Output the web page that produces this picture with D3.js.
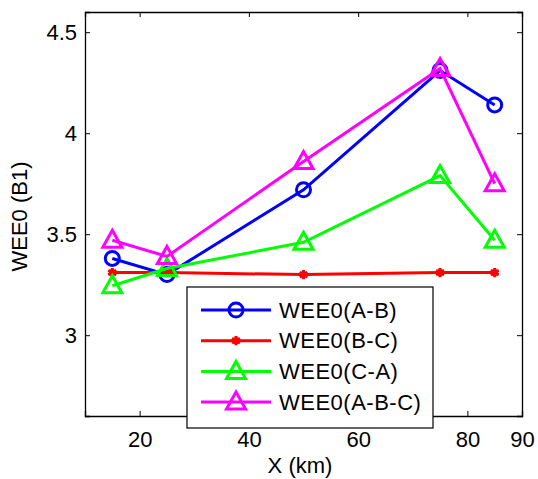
<!DOCTYPE html>
<html>
<head>
<meta charset="utf-8">
<script src="https://cdn.jsdelivr.net/npm/d3@7"></script>
<style>
  body { margin: 0; background: #fff; }
  text { font-family: Arial, "Liberation Sans", sans-serif; }
</style>
</head>
<body>
<div id="chart"></div>
<script>
// datos
const xs = [15, 25, 50, 75, 85];
const seriesNames = ['WEE0(A-B)', 'WEE0(B-C)', 'WEE0(C-A)', 'WEE0(A-B-C)'];
const valsAB = [3.38, 3.30, 3.72, 4.31, 4.14];
const valsBC = [3.31, 3.31, 3.30, 3.31, 3.31];
const valsCA = [3.245, 3.33, 3.46, 3.79, 3.47];
const valsABC = [3.47, 3.39, 3.86, 4.32, 3.75];
const xTicks = [20, 40, 60, 80, 90];
const yTicks = [3, 3.5, 4, 4.5];

const width = 538;
const height = 479;
const margin = { top: 12, right: 16, bottom: 63, left: 85 };

const svg = d3.select('#chart').append('svg')
  .attr('width', width)
  .attr('height', height);

const x = d3.scaleLinear().domain([10, 90]).range([margin.left, width - margin.right]);
const y = d3.scaleLinear().domain([2.6, 4.6]).range([height - margin.bottom, margin.top]);

const series = [
  { name: seriesNames[0], vals: valsAB, color: '#0000ff', marker: 'circle' },
  { name: seriesNames[1], vals: valsBC, color: '#ff0000', marker: 'star' },
  { name: seriesNames[2], vals: valsCA, color: '#00ff00', marker: 'tri' },
  { name: seriesNames[3], vals: valsABC, color: '#ff00ff', marker: 'tri' }
];

// ejes (caja estilo matlab, ticks hacia dentro)
const tickLen = 5;
const fontSize = 22;
const gx = svg.append('g')
  .attr('transform', `translate(0,${y.range()[0]})`)
  .call(d3.axisBottom(x).tickValues(xTicks).tickSize(-tickLen).tickPadding(15).tickFormat(d3.format('d')));
const gxTop = svg.append('g')
  .attr('transform', `translate(0,${y.range()[1]})`)
  .call(d3.axisTop(x).tickValues(xTicks).tickSize(-tickLen).tickFormat(''));
const gy = svg.append('g')
  .attr('transform', `translate(${x.range()[0]},0)`)
  .call(d3.axisLeft(y).tickValues(yTicks).tickSize(-tickLen).tickPadding(8).tickFormat(d3.format('')));
const gyRight = svg.append('g')
  .attr('transform', `translate(${x.range()[1]},0)`)
  .call(d3.axisRight(y).tickValues(yTicks).tickSize(-tickLen).tickFormat(''));

[gx, gxTop, gy, gyRight].forEach(g => {
  g.select('.domain').attr('stroke', '#000').attr('stroke-width', 1.3);
  g.selectAll('.tick line').attr('stroke', '#000');
  g.selectAll('text').attr('font-size', fontSize).attr('fill', '#000')
    .style('font-family', 'Arial, "Liberation Sans", sans-serif');
});

// etiquetas de los ejes
svg.append('text')
  .attr('x', 300)
  .attr('y', 473)
  .attr('text-anchor', 'middle')
  .attr('font-size', fontSize)
  .text('X (km)');

svg.append('text')
  .attr('transform', `translate(26.5, 216.5) rotate(-90)`)
  .attr('text-anchor', 'middle')
  .attr('font-size', fontSize)
  .text('WEE0 (B1)');

// marcadores
function drawMarker(g, type, color, cx, cy) {
  if (type === 'circle') {
    g.append('circle').attr('cx', cx).attr('cy', cy).attr('r', 7)
      .attr('fill', 'none').attr('stroke', color).attr('stroke-width', 3);
  } else if (type === 'tri') {
    g.append('path')
      .attr('d', `M${cx},${cy - 10} L${cx + 9.5},${cy + 7} L${cx - 9.5},${cy + 7} Z`)
      .attr('fill', 'none').attr('stroke', color).attr('stroke-width', 3)
      .attr('stroke-linejoin', 'miter');
  } else {
    // el asterisco de matlab con linea gruesa se ve como una mancha
    g.append('circle').attr('cx', cx).attr('cy', cy).attr('r', 3.5).attr('fill', color);
    g.append('path')
      .attr('transform', `translate(${cx},${cy})`)
      .attr('d', d3.symbol().type(d3.symbolAsterisk).size(60)())
      .attr('fill', 'none').attr('stroke', color).attr('stroke-width', 3);
  }
}

const line = d3.line()
  .x((d, i) => x(xs[i]))
  .y(d => y(d));

series.forEach(s => {
  const g = svg.append('g');
  g.append('path')
    .datum(s.vals)
    .attr('d', line)
    .attr('fill', 'none')
    .attr('stroke', s.color)
    .attr('stroke-width', 3);
  s.vals.forEach((v, i) => drawMarker(g, s.marker, s.color, x(xs[i]), y(v)));
});

// leyenda
const legend = svg.append('g').attr('transform', 'translate(187,287)');
legend.append('rect')
  .attr('width', 246).attr('height', 141)
  .attr('fill', '#fff').attr('stroke', '#000').attr('stroke-width', 1.2);

series.forEach((s, i) => {
  const ly = 23 + i * 30.7;
  legend.append('line')
    .attr('x1', 14).attr('x2', 84).attr('y1', ly).attr('y2', ly)
    .attr('stroke', s.color).attr('stroke-width', 3);
  drawMarker(legend, s.marker, s.color, 49, ly);
  legend.append('text')
    .attr('x', 92).attr('y', ly + 7.5)
    .attr('font-size', fontSize)
    .attr('letter-spacing', 0.5)
    .text(s.name);
});
</script>
</body>
</html>
